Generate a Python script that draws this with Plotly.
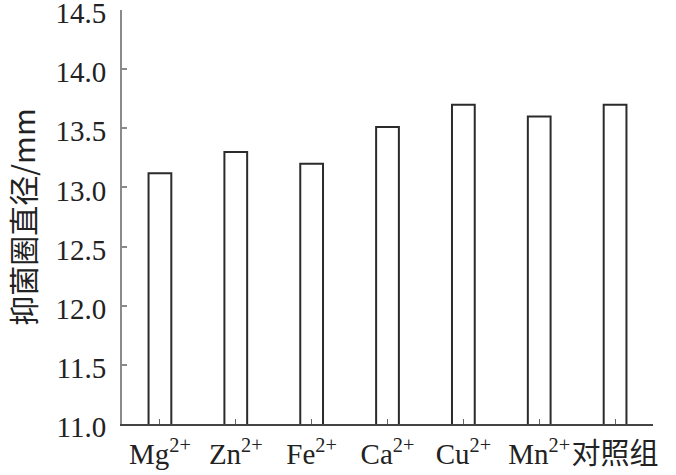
import plotly.graph_objects as go

categories = ["Mg<sup>2+</sup>", "Zn<sup>2+</sup>", "Fe<sup>2+</sup>", "Ca<sup>2+</sup>",
              "Cu<sup>2+</sup>", "Mn<sup>2+</sup>", "对照组"]
values = [13.12, 13.30, 13.20, 13.51, 13.70, 13.60, 13.70]
y_ticks = [11.0, 11.5, 12.0, 12.5, 13.0, 13.5, 14.0, 14.5]
y_tick_labels = ["11.0", "11.5", "12.0", "12.5", "13.0", "13.5", "14.0", "14.5"]
y_title = "抑菌圈直径/mm"

font_family = "Liberation Serif, Noto Sans CJK SC, serif"

fig = go.Figure()
fig.add_trace(go.Bar(
    x=categories, y=values,
    width=0.30,
    marker=dict(color="white", line=dict(color="#2b2b2b", width=2)),
))

fig.update_layout(
    width=676, height=475,
    margin=dict(l=122, r=23, t=10, b=51),
    paper_bgcolor="white", plot_bgcolor="white",
    showlegend=False,
    font=dict(family=font_family, size=30, color="#222222"),
)
fig.update_xaxes(
    type="category",
    automargin=False,
    tickangle=0,
    showline=True, linecolor="#444444", linewidth=2,
    ticks="inside", ticklen=5, tickwidth=1, tickcolor="#666666",
    showgrid=False, zeroline=False,
    tickfont=dict(family=font_family, size=29, color="#222222"),
    ticklabelstandoff=3,
    range=[-0.5, 6.5],
)
fig.update_yaxes(
    automargin=False,
    range=[11.0, 14.5],
    tickvals=y_ticks, ticktext=y_tick_labels,
    ticklabeloverflow="allow",
    ticklabelshift=3,
    showline=True, linecolor="#8a8a8a", linewidth=2,
    ticks="inside", ticklen=5, tickwidth=2, tickcolor="#8a8a8a",
    showgrid=False, zeroline=False,
    ticklabelstandoff=8,
    tickfont=dict(family=font_family, size=29, color="#222222"),
    title=dict(text=y_title, font=dict(family="Noto Sans CJK SC, sans-serif", size=30, color="#222222"), standoff=23),
)

fig.write_html("out.html", config={"displayModeBar": False},
               post_script="document.body.style.margin='0';")
